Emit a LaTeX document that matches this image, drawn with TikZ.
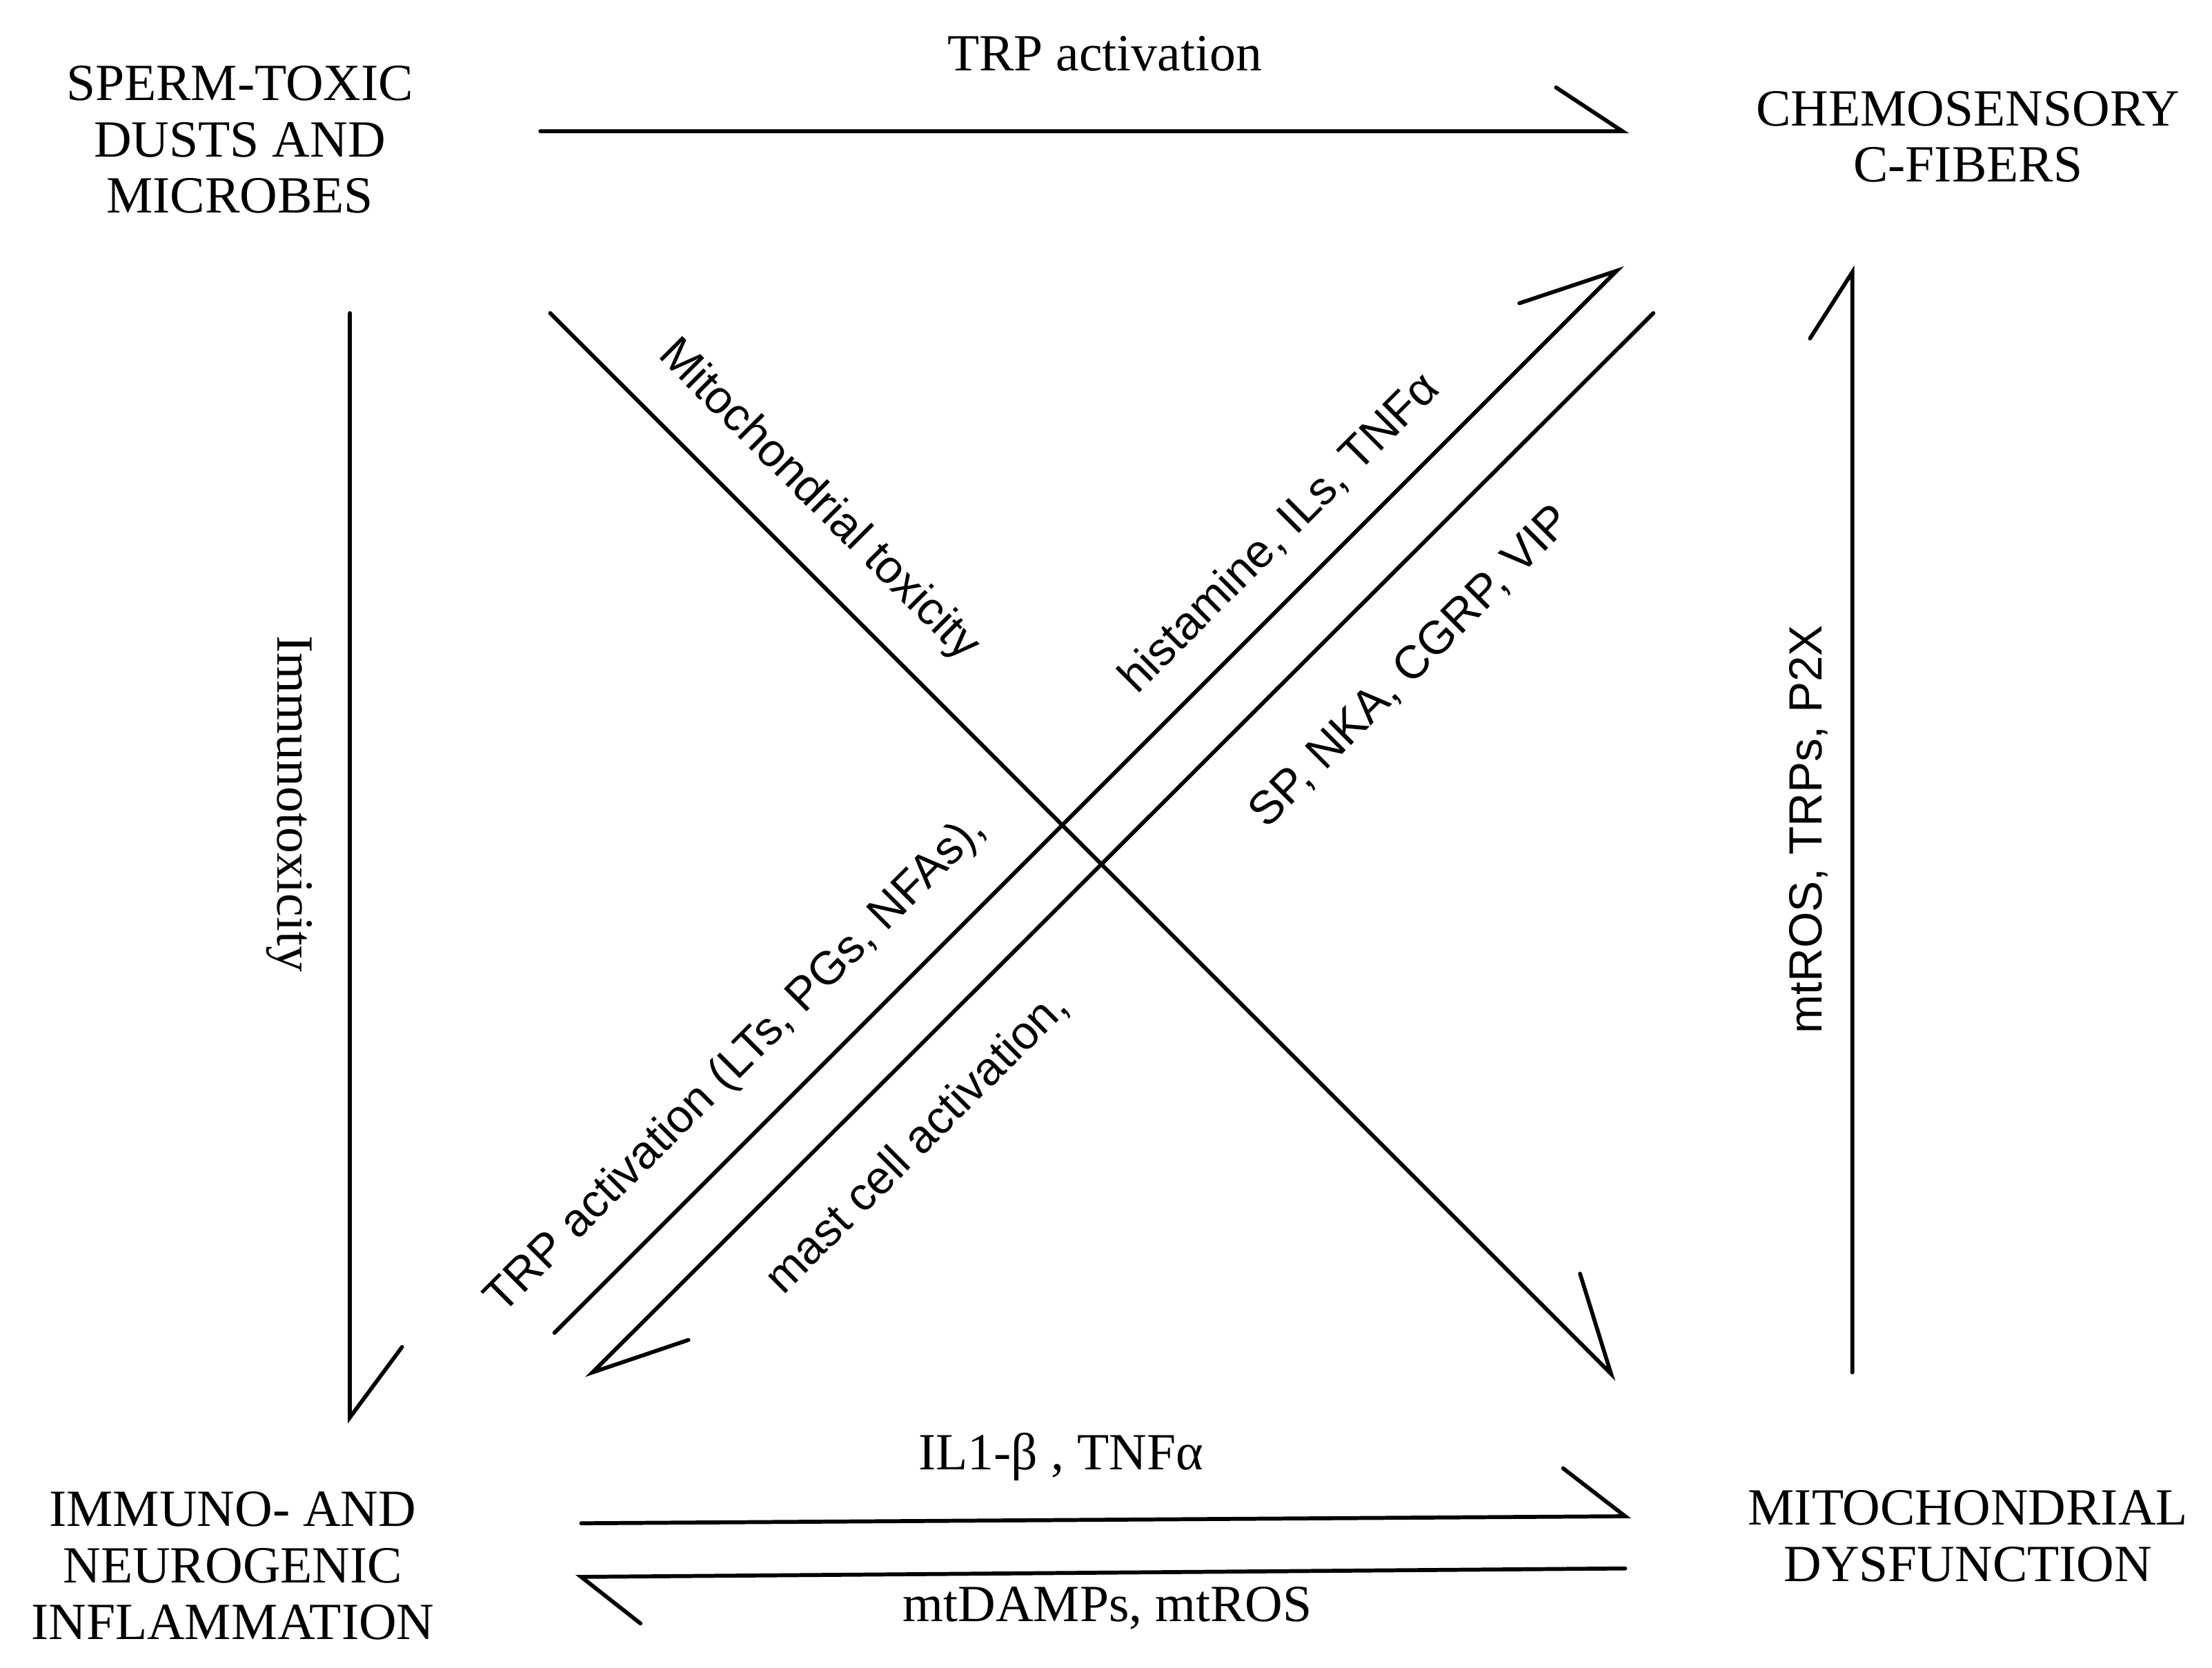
\documentclass[tikz,border=0pt]{standalone}
\usepackage{fontspec}
\setmainfont{Liberation Serif}
\setsansfont{Liberation Sans}
\begin{document}
\begin{tikzpicture}[x=1pt,y=-1pt,
  box/.style={align=center,font=\fontsize{37}{40}\selectfont,inner sep=0pt},
  slab/.style={font=\sffamily\fontsize{33}{36}\selectfont,inner sep=0pt},
  rlab/.style={font=\fontsize{37}{40}\selectfont,inner sep=0pt},
  conn/.style={line width=2.8pt,line cap=round,line join=miter}]
\useasboundingbox (0,0) rectangle (1568,1182.6);
\node[box] (sperm) at (170,99) {SPERM-TOXIC\\DUSTS AND\\MICROBES};
\node[box] (chemo) at (1395,97) {CHEMOSENSORY\\C-FIBERS};
\node[box] (inflam) at (165,1110) {IMMUNO- AND\\NEUROGENIC\\INFLAMMATION};
\node[box] (mito) at (1395,1089) {MITOCHONDRIAL\\DYSFUNCTION};
% coordinates
\coordinate (a1) at (383,93); \coordinate (a2) at (1150,93); \coordinate (a3) at (1103,62);
\coordinate (b1) at (248,222); \coordinate (b2) at (248,1005); \coordinate (b3) at (285,955);
\coordinate (c1) at (1313,973); \coordinate (c2) at (1313,193); \coordinate (c3) at (1283,240);
\coordinate (d1) at (390,222); \coordinate (d2) at (1142,974); \coordinate (d3) at (1120,903);
\coordinate (e1) at (393,945); \coordinate (e2) at (1146,192); \coordinate (e3) at (1077,215);
\coordinate (f1) at (1172,222); \coordinate (f2) at (420,973); \coordinate (f3) at (488,950);
\coordinate (g1) at (412,1080); \coordinate (g2) at (1152,1075); \coordinate (g3) at (1108,1041);
\coordinate (h1) at (1152,1112); \coordinate (h2) at (412,1118); \coordinate (h3) at (454,1151);
\draw[conn] (a1) -- (a2) -- (a3);
\draw[conn] (b1) -- (b2) -- (b3);
\draw[conn] (c1) -- (c2) -- (c3);
\draw[conn] (d1) -- (d2) -- (d3);
\draw[conn] (e1) -- (e2) -- (e3);
\draw[conn] (f1) -- (f2) -- (f3);
\draw[conn] (g1) -- (g2) -- (g3);
\draw[conn] (h1) -- (h2) -- (h3);
% labels
\node[rlab] (l1) at (783,38) {TRP activation};
\node[rlab,rotate=-90] (l2) at (205,570) {Immunotoxicity};
\node[slab,rotate=90] (l3) at (1282,588) {mtROS, TRPs, P2X};
\node[slab,rotate=-45] (l4) at (580,355) {Mitochondrial toxicity};
\node[slab,rotate=45] (l5) at (907,378) {histamine, ILs, TNFα};
\node[slab,rotate=45] (l6) at (522,755) {TRP activation (LTs, PGs, NFAs),};
\node[slab,rotate=45] (l7) at (1000,473) {SP, NKA, CGRP, VIP};
\node[slab,rotate=45] (l8) at (650,810) {mast cell activation,};
\node[rlab] (l9) at (752,1033) {IL1-β , TNFα};
\node[rlab] (l10) at (785,1140) {mtDAMPs, mtROS};
\end{tikzpicture}
\end{document}
